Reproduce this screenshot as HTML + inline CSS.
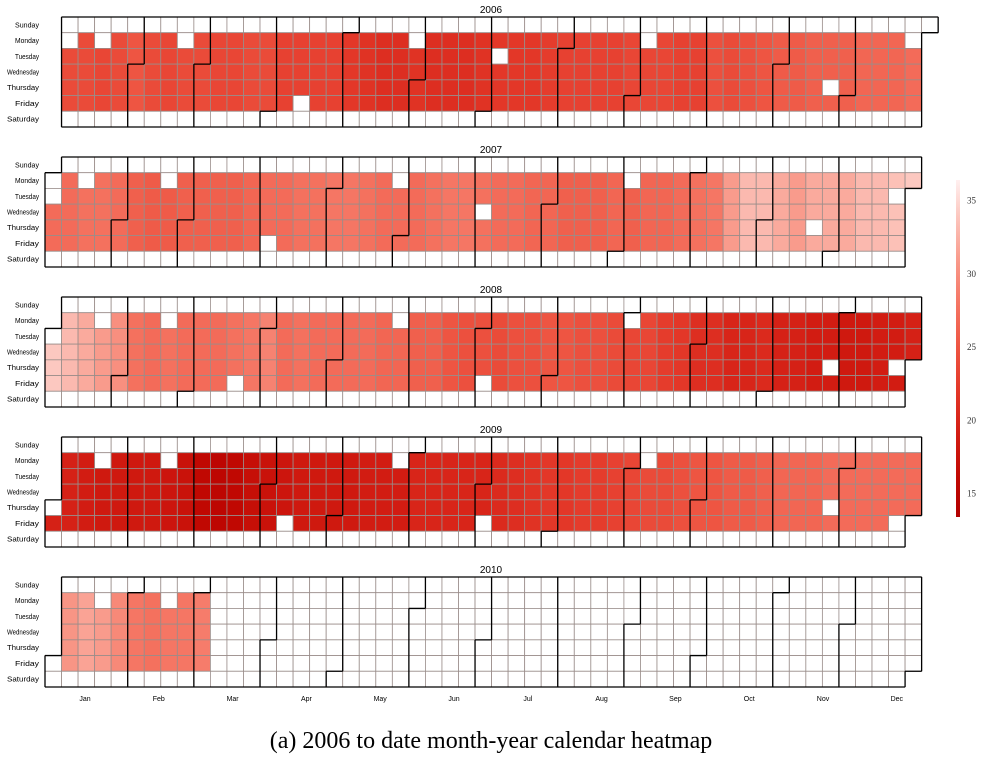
<!DOCTYPE html>
<html><head><meta charset="utf-8"><style>
html,body{margin:0;padding:0;background:#fff;width:982px;height:759px;overflow:hidden}
svg{display:block}
</style></head><body>
<svg id="chart" width="982" height="759" xmlns="http://www.w3.org/2000/svg"></svg>
<script>
const years = [2006, 2007, 2008, 2009, 2010];
const dayNames = ["Sunday","Monday","Tuesday","Wednesday","Thursday","Friday","Saturday"];
const monthNames = ["Jan","Feb","Mar","Apr","May","Jun","Jul","Aug","Sep","Oct","Nov","Dec"];
const colorTicks = [15, 20, 25, 30, 35];
const vals2006 = [24,24,24,23.5,24,25,24,23.5,24,24,23.5,23.5,24,24,23,23,23,23,22,21.5,21,21,21.5,21,21,21,21.5,22,22,22,22.5,23,23,23,23,23.5,23.5,23.5,23,23,24.5,24,24.5,25,25.5,25.5,26,26,26,26.5,26.5,26.5,27,27];
const vals2007 = [27,27,27.5,27.5,27,26,25.5,25.5,26,26,26,26,26.5,27,27,27.5,27.5,28,28,27.5,27,27,27,27.5,28,28,27.5,27,27,26.5,26.5,26,26,26,26.5,26,26.5,26.5,27,27.5,28,31,33,33,32,31,32,32,32,33,33,33.5,34];
const vals2008 = [34,33,32,31,30,27.5,27,27.5,27,27,27,27.5,28,29,27,27.5,27,27,27,27,26.5,26.5,26,26,25,24.5,24.5,24,24.5,24.5,25,25,24.5,24.5,24,23.5,23.5,22.5,22,21,21,20,20,20.5,19.5,19.5,19,19,18.5,18.5,19,19,19.5];
const vals2009 = [19.5,19.5,19,18.5,18.5,18.5,18.5,18,17.5,16,15.5,16,17,17.5,18,18.5,18.5,18.5,18.5,19,19,19,20,20,20,20,20,20.5,21,21.5,22,22,22.5,22.5,23,23.5,24,24,24.5,25,25,25.5,25.5,26,26.5,26.5,26.5,27,27,27,27,27,27];
const vals2010 = [30,30.5,31.5,31,29.5,28,27.5,28,28,28.5];
const weekValues = {2006: vals2006, 2007: vals2007, 2008: vals2008, 2009: vals2009, 2010: vals2010};
const holidays = ["2006-01-02","2006-01-16","2006-02-20","2006-04-14","2006-05-29","2006-07-04","2006-09-04","2006-11-23","2006-12-25",
"2007-01-01","2007-01-02","2007-01-15","2007-02-19","2007-04-06","2007-05-28","2007-07-04","2007-09-03","2007-11-22","2007-12-25",
"2008-01-01","2008-01-21","2008-02-18","2008-03-21","2008-05-26","2008-07-04","2008-09-01","2008-11-27","2008-12-25",
"2009-01-01","2009-01-19","2009-02-16","2009-04-10","2009-05-25","2009-07-03","2009-09-07","2009-11-26","2009-12-25",
"2010-01-01","2010-01-18","2010-02-15"];
const dataEnd = "2010-03-05";

const NS = "http://www.w3.org/2000/svg";
const svg = document.getElementById("chart");
const X0 = 45, CW = 16.54, RH = 15.71, PTOP = 17, PSTEP = 140;
const vMin = 13.4, vMax = 36.4, barTop = 180, barBot = 517;
function xPos(w){ return X0 + w * CW; }
function yPos(yi, d){ return PTOP + yi * PSTEP + d * RH; }
function barY(v){ return barBot - (v - vMin) / (vMax - vMin) * (barBot - barTop); }
const stops = [[13.4,[178,0,0]],[16,[192,8,2]],[19,[210,28,18]],[22,[227,55,40]],[25,[238,85,66]],[28,[245,118,100]],[31,[249,155,140]],[34,[252,200,192]],[36.4,[255,240,240]]];
function colorOf(v){
  for(let i=0;i<stops.length-1;i++){const a=stops[i],b=stops[i+1];
    if(v<=b[0]){const t=Math.max(0,(v-a[0])/(b[0]-a[0]));
      const c=a[1].map((q,k)=>Math.round(q+(b[1][k]-q)*t));return `rgb(${c[0]},${c[1]},${c[2]})`;}}
  return "rgb(255,240,240)";
}
function mk(tag, attrs, parent){ const e=document.createElementNS(NS,tag); for(const k in attrs) e.setAttribute(k,attrs[k]); (parent||svg).appendChild(e); return e; }
function iso(dt){ return dt.toISOString().slice(0,10); }

years.forEach((yr, yi) => {
  const g = mk("g", {});
  
  
  const title = mk("text", {x: 491, y: yPos(yi,0) - 4, "text-anchor": "middle", "font-size": "10", "font-family": "Liberation Sans, sans-serif"}, g);
  title.textContent = yr;
  
  
  dayNames.forEach((dn, d) => {
    const t = mk("text", {x: 39, y: yPos(yi,d) + RH/2 + 2.5, "text-anchor": "end", "font-size": "7", "font-family": "Liberation Sans, sans-serif", "textLength": dn.length > 7 ? 32 : 24, "lengthAdjust": "spacingAndGlyphs"}, g);
    t.textContent = dn;
    
    
  });
  const days = [];
  const start = Date.UTC(yr,0,1);
  for (let dt = new Date(start); dt.getUTCFullYear() === yr; dt = new Date(dt.getTime() + 86400000)) {
    const yday = Math.round((dt.getTime() - start) / 86400000);
    const dow = dt.getUTCDay();
    const week = Math.floor((yday + 7 - dow) / 7);
    days.push({dt, dow, week, month: dt.getUTCMonth()});
  }
  const cellMap = {};
  days.forEach(o => { cellMap[o.week + "_" + o.dow] = o.month; });
  const vals = weekValues[yr];
  days.forEach(o => {
    const s = iso(o.dt);
    let fill = "#fff";
    if (o.dow > 0 && o.dow < 6 && holidays.indexOf(s) < 0 && s <= dataEnd && vals[o.week] !== undefined) fill = colorOf(vals[o.week]);
    const r = mk("rect", {x: xPos(o.week), y: yPos(yi,o.dow), width: CW, height: RH, fill: fill, stroke: "#9a8d8a", "stroke-width": "0.8"}, g);
    
    
  });
  let path = "";
  days.forEach(o => {
    const x = xPos(o.week), y = yPos(yi,o.dow);
    const nb = [[o.week, o.dow-1, `M${x},${y}h${CW}`], [o.week, o.dow+1, `M${x},${y+RH}h${CW}`], [o.week-1, o.dow, `M${x},${y}v${RH}`], [o.week+1, o.dow, `M${x+CW},${y}v${RH}`]];
    nb.forEach(n => { const m = cellMap[n[0]+"_"+n[1]]; if (m === undefined || m !== o.month) path += n[2]; });
  });
  const b = mk("path", {d: path, fill: "none", stroke: "#000", "stroke-width": "1.3"}, g);
  
  
});

monthNames.forEach((m, i) => {
  const t = mk("text", {x: 85 + i * 73.8, y: 701, "text-anchor": "middle", "font-size": "7", "font-family": "Liberation Sans, sans-serif"});
  t.textContent = m;
  
  
});

const defs = mk("defs", {});
const lg = mk("linearGradient", {id: "cb", x1: "0", y1: "1", x2: "0", y2: "0"}, defs);
stops.forEach(s => { mk("stop", {offset: (s[0]-vMin)/(vMax-vMin), "stop-color": colorOf(s[0])}, lg); });
const bar = mk("rect", {x: 956, y: barTop, width: 4, height: barBot - barTop, fill: "url(#cb)"});


colorTicks.forEach(v => {
  const t = mk("text", {x: 967, y: barY(v) + 3, "font-size": "9", "font-family": "Liberation Serif, serif", fill: "#333"});
  t.textContent = v;
  
  
});
const cap = mk("text", {x: 491, y: 748, "text-anchor": "middle", "font-size": "24", "font-family": "Liberation Serif, serif"});
cap.textContent = "(a) 2006 to date month-year calendar heatmap";


</script>
</body></html>
